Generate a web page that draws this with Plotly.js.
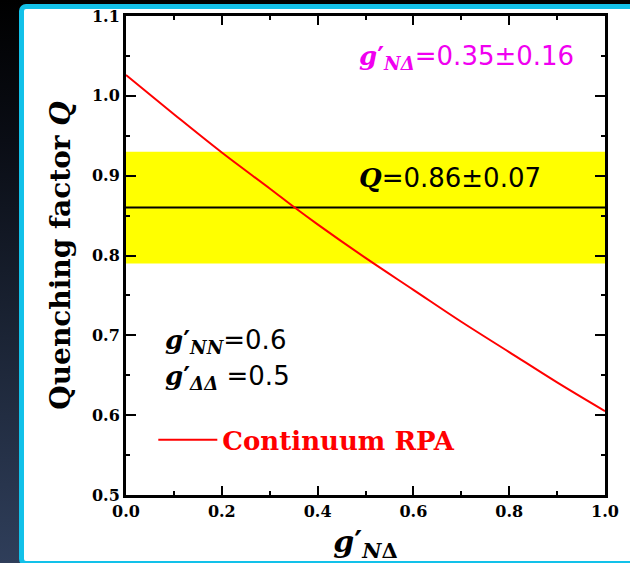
<!DOCTYPE html>
<html>
<head>
<meta charset="utf-8">
<script src="https://cdn.plot.ly/plotly-3.0.1.min.js"></script>
<style>
  html, body { margin:0; padding:0; width:630px; height:563px; overflow:hidden; }
  #bg { position:absolute; left:0; top:0; width:630px; height:563px;
        background: linear-gradient(to bottom, #000 0%, #0a0d15 25%, #1b2435 60%, #2f3e5a 100%); }
  #frame { position:absolute; left:19px; top:4px; width:720px; height:562px; box-sizing:border-box;
           border:5px solid #12c1e9; border-radius:7px; background:#fff; }
  #chart { position:absolute; left:0; top:0; width:630px; height:563px; }
</style>
</head>
<body>
<div id="bg"></div>
<div id="frame"></div>
<div id="chart"></div>
<script>
// g'_{NΔ} values and the continuum RPA quenching factor Q
const gNDelta = [0.0, 0.1, 0.2, 0.3, 0.35, 0.4, 0.5, 0.6, 0.7, 0.8, 0.9, 1.0];
const quenchQ = [1.026, 0.977, 0.929, 0.884, 0.861, 0.839, 0.797, 0.757, 0.717, 0.679, 0.641, 0.605];

// experimental Q = 0.86 ± 0.07
const qCenter = 0.86;
const qError = 0.07;
const xSpan = [0.0, 1.0];

const xTickVals = [0.0, 0.2, 0.4, 0.6, 0.8, 1.0];
const xTickText = ['0.0', '0.2', '0.4', '0.6', '0.8', '1.0'];
const yTickVals = [0.5, 0.6, 0.7, 0.8, 0.9, 1.0, 1.1];
const yTickText = ['0.5', '0.6', '0.7', '0.8', '0.9', '1.0', '1.1'];

const serif = 'DejaVu Serif';
const sans = 'DejaVu Sans';

const traces = [
  { // yellow band
    x: [xSpan[0], xSpan[1], xSpan[1], xSpan[0], xSpan[0]],
    y: [qCenter + qError, qCenter + qError, qCenter - qError, qCenter - qError, qCenter + qError],
    mode: 'lines', fill: 'toself', fillcolor: '#ffff00',
    line: { width: 0, color: '#ffff00' }, showlegend: false, hoverinfo: 'skip'
  },
  { // central value
    x: xSpan, y: [qCenter, qCenter],
    mode: 'lines', line: { color: '#000000', width: 2 }, showlegend: false
  },
  {
    x: gNDelta, y: quenchQ, name: 'Continuum RPA',
    mode: 'lines', line: { color: '#ff0000', width: 2, shape: 'spline' }, showlegend: true
  }
];

const g = (sub) => '<span style="font-family:' + serif + '"><b><i>g</i>′</b><sub><b><i>' + sub + '</i></b></sub></span>';

const layout = {
  width: 630, height: 563,
  paper_bgcolor: 'rgba(0,0,0,0)', plot_bgcolor: 'rgba(0,0,0,0)',
  margin: { l: 126, r: 25, t: 16, b: 68 },
  showlegend: true,
  legend: {
    x: 0.057, y: 0.115, xanchor: 'left', yanchor: 'middle',
    itemwidth: 59,
    bgcolor: 'rgba(0,0,0,0)', borderwidth: 0,
    font: { family: serif, size: 26, color: '#ff0000', weight: 'bold' }
  },
  xaxis: {
    range: [0, 1], showgrid: false, zeroline: false,
    showline: true, linecolor: '#000', linewidth: 3, mirror: 'allticks',
    ticks: 'inside', ticklen: 9, tickwidth: 2, tickcolor: '#000',
    tickvals: xTickVals, ticktext: xTickText,
    minor: { dtick: 0.1, ticks: 'inside', ticklen: 4, tickwidth: 2, tickcolor: '#000' },
    tickfont: { family: serif, size: 16, color: '#000', weight: 'bold' },
    title: { text: '<b><i>g</i>′<sub><i>N</i>Δ</sub></b>', font: { family: serif, size: 30, color: '#000' }, standoff: 11 }
  },
  yaxis: {
    range: [0.5, 1.1], showgrid: false, zeroline: false,
    showline: true, linecolor: '#000', linewidth: 3, mirror: 'allticks',
    ticks: 'inside', ticklen: 10, tickwidth: 2, tickcolor: '#000',
    tickvals: yTickVals, ticktext: yTickText,
    minor: { dtick: 0.05, ticks: 'inside', ticklen: 4, tickwidth: 2, tickcolor: '#000' },
    tickfont: { family: serif, size: 16, color: '#000', weight: 'bold' },
    title: { text: '<b>Quenching factor <i>Q</i></b>', font: { family: serif, size: 28, color: '#000' }, standoff: 14 }
  },
  annotations: [
    { xref: 'x', yref: 'y', x: 0.482, y: 1.048, xanchor: 'left', yanchor: 'middle', showarrow: false,
      text: g('NΔ') + '<span style="font-family:' + sans + '">=0.35±0.16</span>',
      font: { family: sans, size: 26, color: '#f000f0' } },
    { xref: 'x', yref: 'y', x: 0.482, y: 0.897, xanchor: 'left', yanchor: 'middle', showarrow: false,
      text: '<span style="font-family:' + serif + '"><b><i>Q</i></b></span>=0.86±0.07',
      font: { family: sans, size: 26, color: '#000' } },
    { xref: 'x', yref: 'y', x: 0.077, y: 0.692, xanchor: 'left', yanchor: 'middle', showarrow: false,
      text: g('NN') + '=0.6',
      font: { family: sans, size: 26, color: '#000' } },
    { xref: 'x', yref: 'y', x: 0.077, y: 0.647, xanchor: 'left', yanchor: 'middle', showarrow: false,
      text: g('ΔΔ') + ' =0.5',
      font: { family: sans, size: 26, color: '#000' } }
  ]
};

Plotly.newPlot('chart', traces, layout, { displayModeBar: false, staticPlot: true });
</script>
</body>
</html>
